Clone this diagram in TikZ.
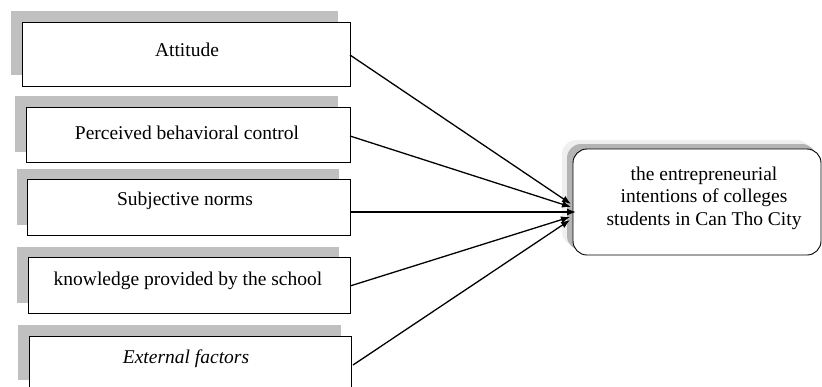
\documentclass[tikz,border=0pt]{standalone}
\usepackage{fontspec}
\setmainfont{Liberation Serif}
\usetikzlibrary{arrows.meta}
\definecolor{shadowgray}{HTML}{C0C0C0}
\definecolor{darkshadow}{HTML}{B4B4B4}
\definecolor{lightshadow}{HTML}{EFEFEF}
\begin{document}
\begin{tikzpicture}[x=1pt,y=-1pt,
  boxshadow/.style={fill=shadowgray,draw=none},
  factorbox/.style={draw=black,line width=0.9pt,fill=white},
  lbl/.style={font=\fontsize{19.5}{22.5}\selectfont,anchor=base,inner sep=0pt},
  arr/.style={line width=1.3pt,-{Latex[length=9pt,width=7pt]}}]
\useasboundingbox (0,0) rectangle (822,386);
\clip (0,0) rectangle (822,386);
% left shadows
\fill[boxshadow] (11,11) rectangle (338,75);
\fill[boxshadow] (15,96) rectangle (338,152);
\fill[boxshadow] (17,169) rectangle (339,225);
\fill[boxshadow] (17,247) rectangle (339,303);
\fill[boxshadow] (18,325) rectangle (341,380);
% left boxes
\draw[factorbox] (22,22) rectangle (350,86) coordinate (b1c);
\draw[factorbox] (26,107) rectangle (350,162);
\draw[factorbox] (27,179) rectangle (350,235);
\draw[factorbox] (28,257) rectangle (350,313);
\draw[factorbox] (29,336) rectangle (351,392);
\node[lbl] (t1) at (187,56) {Attitude};
\node[lbl] (t2) at (187,139) {Perceived behavioral control};
\node[lbl] (t3) at (185,205) {Subjective norms};
\node[lbl] (t4) at (188,285) {knowledge provided by the school};
\node[lbl] (t5) at (186,363) {\itshape External factors};
% right box shadow
\fill[lightshadow,rounded corners=14pt] (562,140) rectangle (811,246);
\fill[darkshadow,rounded corners=14pt] (567,144) rectangle (816,250);
\draw[line width=0.9pt,fill=white,rounded corners=14pt] (573,149) rectangle (821,255);
\node[font=\fontsize{19.5}{22.5}\selectfont,align=center,inner sep=0pt] (goal) at (704,198)
  {the entrepreneurial\\intentions of colleges\\students in Can Tho City};
% connector endpoints
\coordinate (s1) at (350,55);
\coordinate (s2) at (350,136);
\coordinate (s3) at (350,212);
\coordinate (s4) at (350,286);
\coordinate (s5) at (353,365);
\coordinate (e1) at (571,204);
\coordinate (e2) at (571,207);
\coordinate (e3) at (576,212);
\coordinate (e4) at (570,217);
\coordinate (e5) at (570,220);
\draw[arr] (s1) -- (e1);
\draw[arr] (s2) -- (e2);
\draw[arr] (s3) -- (e3);
\draw[arr] (s4) -- (e4);
\draw[arr] (s5) -- (e5);
\end{tikzpicture}
\end{document}
